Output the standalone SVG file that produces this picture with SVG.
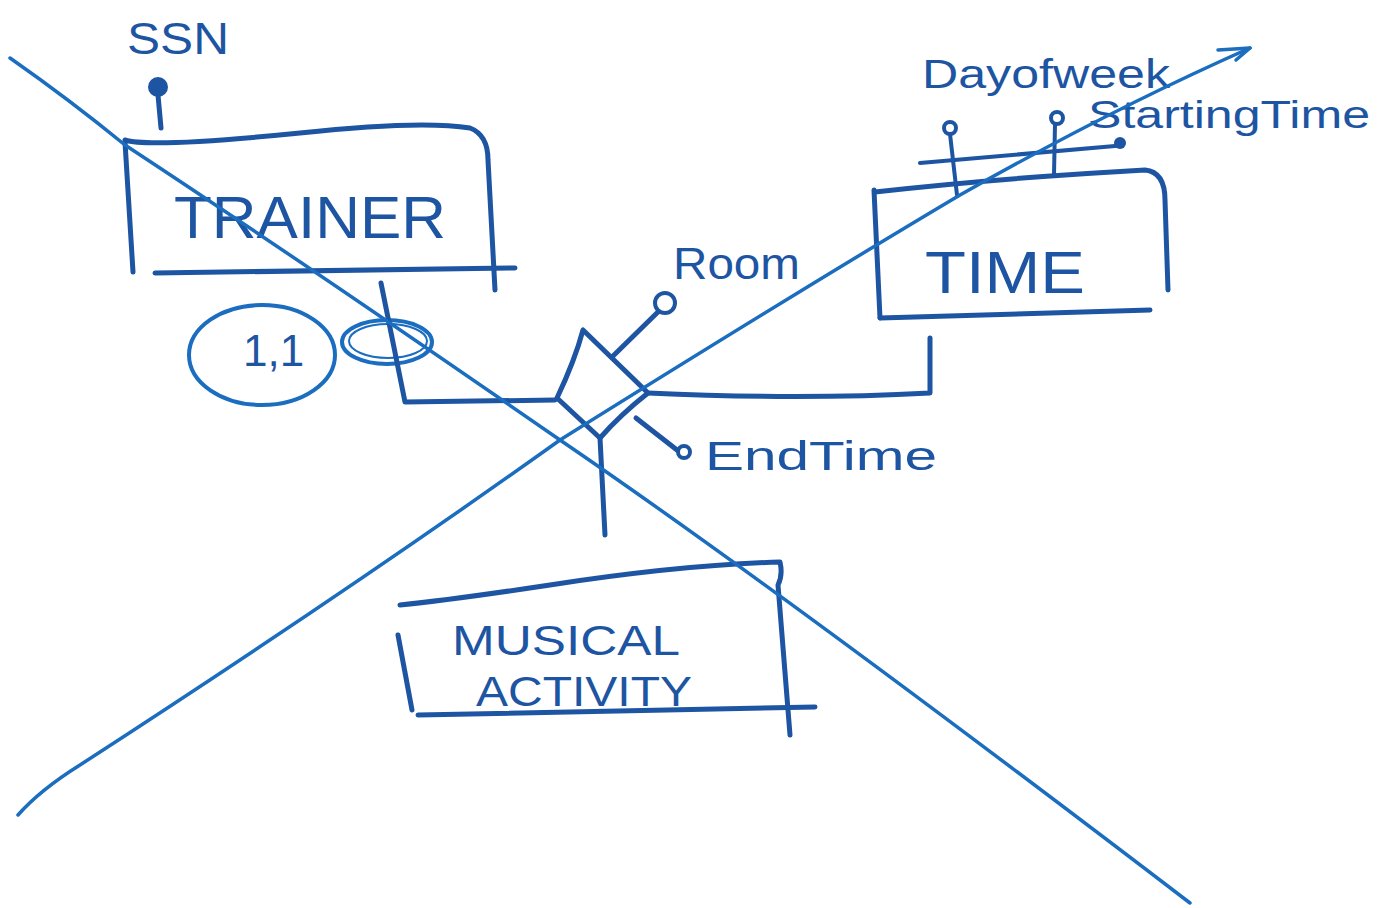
<svg xmlns="http://www.w3.org/2000/svg" width="1391" height="908" viewBox="0 0 1391 908">
<style>
.ink{fill:none;stroke:#1d55a3;stroke-width:5;stroke-linecap:round;stroke-linejoin:round}
.thin{fill:none;stroke:#1d55a3;stroke-width:4;stroke-linecap:round}
.cross{fill:none;stroke:#1a6dbf;stroke-width:3.5;stroke-linecap:round;stroke-linejoin:round}
.lbl{font-family:"Liberation Sans",Arial,sans-serif;fill:#1d55a3}
.dot{fill:#1d55a3}
.oc{fill:#fff;stroke:#1d55a3;stroke-width:4}
</style>
<rect width="1391" height="908" fill="#fff"/>
<g id="trainer">
<path class="ink" d="M125 140 Q150 148 300 133 Q420 120 470 128 Q488 135 488 160 L495 290"/>
<path class="ink" d="M125 142 L133 272"/>
<path class="ink" d="M155 273 L515 268"/>
<text class="lbl" x="174" y="238" font-size="60" textLength="272" lengthAdjust="spacingAndGlyphs">TRAINER</text>
</g>
<g id="ssn">
<text class="lbl" x="127" y="54" font-size="44" textLength="102" lengthAdjust="spacingAndGlyphs">SSN</text>
<circle class="dot" cx="158" cy="87" r="10"/>
<path class="ink" d="M158 95 L161 128"/>
</g>
<g id="card">
<ellipse cx="262" cy="355" rx="73" ry="50" fill="none" stroke="#1a6dbf" stroke-width="4"/>
<text class="lbl" x="243" y="366" font-size="44">1,1</text>
<ellipse cx="387" cy="342" rx="45" ry="22" fill="none" stroke="#1a6dbf" stroke-width="4"/>
<ellipse cx="388" cy="341" rx="39" ry="17" fill="none" stroke="#1a6dbf" stroke-width="2"/>
</g>
<g id="time">
<path class="ink" d="M875 192 Q1000 178 1145 170 Q1165 172 1165 200 L1168 290"/>
<path class="ink" d="M874 190 L880 318"/>
<path class="ink" d="M880 318 L1150 310"/>
<text class="lbl" x="925" y="293" font-size="60" textLength="160" lengthAdjust="spacingAndGlyphs">TIME</text>
</g>
<g id="time-attrs">
<path class="thin" d="M920 163 L1115 146"/>
<circle class="dot" cx="1120" cy="143" r="6"/>
<path class="thin" d="M950 134 L957 195"/>
<circle class="oc" cx="950" cy="128" r="6"/>
<path class="thin" d="M1055 124 L1054 175"/>
<circle class="oc" cx="1057" cy="118" r="6"/>
<text class="lbl" x="922" y="88" font-size="40" textLength="248" lengthAdjust="spacingAndGlyphs">Dayofweek</text>
<text class="lbl" x="1088" y="128" font-size="38" textLength="282" lengthAdjust="spacingAndGlyphs">StartingTime</text>
</g>
<g id="relationship">
<path class="ink" d="M583 330 Q575 360 557 398 L600 438 Q620 415 648 393 Z"/>
<path class="ink" d="M612 357 L660 310"/>
<circle class="oc" cx="665" cy="303" r="10"/>
<path class="ink" d="M636 418 L677 450"/>
<circle class="oc" cx="684" cy="452" r="6"/>
<text class="lbl" x="673" y="279" font-size="44" textLength="127" lengthAdjust="spacingAndGlyphs">Room</text>
<text class="lbl" x="705" y="470" font-size="40" textLength="232" lengthAdjust="spacingAndGlyphs">EndTime</text>
</g>
<g id="musical-activity">
<path class="ink" d="M400 605 Q450 600 550 585 Q680 565 780 562 Q783 575 778 585 L790 735"/>
<path class="ink" d="M398 635 L412 710"/>
<path class="ink" d="M418 715 L815 707"/>
<text class="lbl" x="452" y="655" font-size="42" textLength="228" lengthAdjust="spacingAndGlyphs">MUSICAL</text>
<text class="lbl" x="476" y="706" font-size="42" textLength="216" lengthAdjust="spacingAndGlyphs">ACTIVITY</text>
</g>
<g id="connectors">
<path class="ink" d="M381 283 L405 402 L555 400"/>
<path class="ink" d="M648 393 Q800 400 930 393 L930 338"/>
<path class="ink" d="M600 438 L605 535"/>
</g>
<g id="crossout">
<path class="cross" d="M10 58 Q70 100 125 145 Q300 260 560 440 Q780 590 1190 903"/>
<path class="cross" d="M18 815 Q40 790 80 765 Q350 590 560 440 Q800 290 960 195 Q1110 110 1250 48"/>
<path class="cross" d="M1218 50 L1250 48 L1236 60"/>
</g>
</svg>
